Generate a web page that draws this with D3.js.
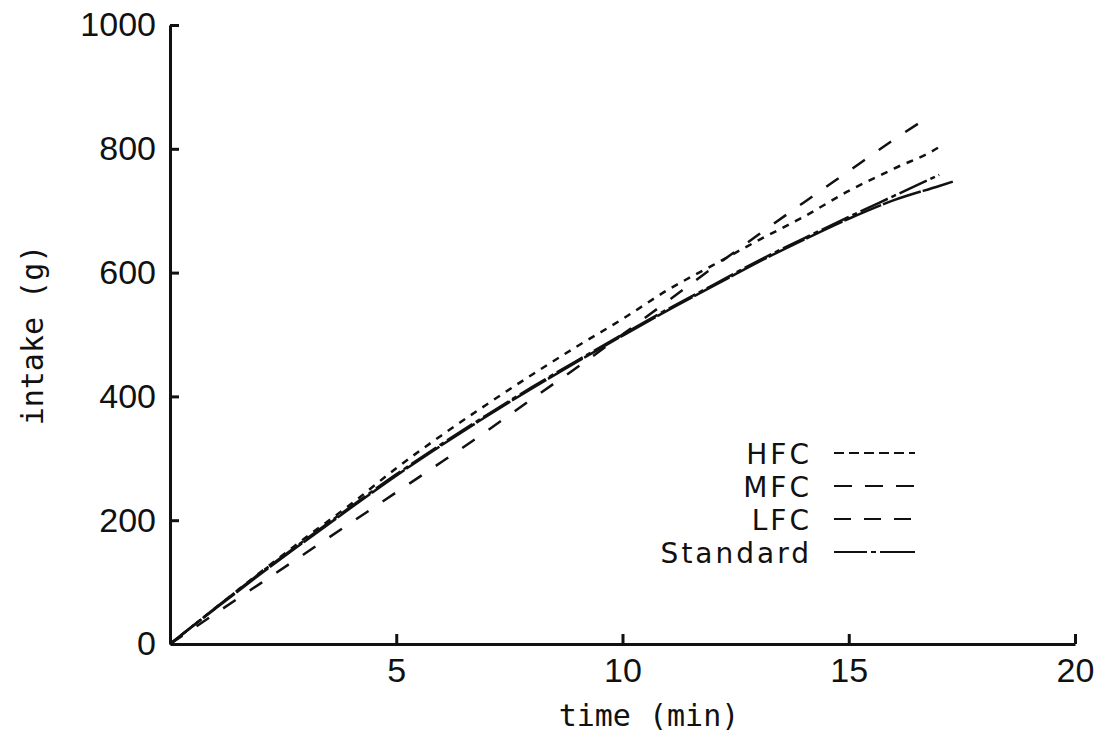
<!DOCTYPE html>
<html>
<head>
<meta charset="utf-8">
<script src="https://cdn.jsdelivr.net/npm/d3@7"></script>
<style>
  body { margin: 0; background: #fff; }
  .axis path, .axis line { stroke: #111; stroke-width: 3; }
  .axis text { font-family: 'Liberation Sans', Arial, sans-serif; font-size: 34px; fill: #111; }
</style>
</head>
<body>
<div id="chart"></div>
<script>
// values
const seriesNames = ['HFC', 'MFC', 'LFC', 'Standard']

const hfcTime = [0, 1, 2, 3, 4, 5, 6, 7, 8, 9, 10, 11, 12, 13, 14, 15, 16, 17, 17.1]
const hfcIntake = [0, 58, 116, 172, 226, 284, 337, 387, 435, 481, 525, 572, 612, 652, 690, 732, 768, 803, 808]

const mfcTime = [0, 1, 2, 3, 4, 5, 6, 7, 8, 9, 10, 11, 12, 13, 14, 15, 16, 16.8]
const mfcIntake = [0, 49, 98, 147, 196, 245, 294, 344, 396, 447, 500, 554, 608, 661, 713, 764, 815, 853]

const lfcTime = [0, 1, 2, 3, 4, 5, 6, 7, 8, 9, 10, 11, 12, 13, 14, 15, 16, 17, 17.3]
const lfcIntake = [0, 57, 113, 167, 220, 272, 321, 368, 413, 456, 498, 539, 578, 617, 653, 687, 717, 740, 747]

const stdTime = [0, 1, 2, 3, 4, 5, 6, 7, 8, 9, 10, 11, 12, 13, 14, 15, 16, 17]
const stdIntake = [0, 58, 115, 169, 222, 274, 323, 370, 415, 458, 500, 541, 580, 619, 655, 690, 724, 758]

const xTicks = [5, 10, 15, 20]
const yTicks = [0, 200, 400, 600, 800, 1000]

const series = [
  {name: 'HFC', time: hfcTime, intake: hfcIntake, dash: '7,7', key: '10,5'},
  {name: 'MFC', time: mfcTime, intake: mfcIntake, dash: '15,17', key: '18,13'},
  {name: 'LFC', time: lfcTime, intake: lfcIntake, dash: '40,2', key: '17,13'},
  {name: 'Standard', time: stdTime, intake: stdIntake, dash: '30,4,5,4', key: '33,4,5,4,40'}
]

const width = 1102
const height = 740

const xScale = d3.scaleLinear()
  .domain([0, 20])
  .range([170, 1075])
const yScale = d3.scaleLinear()
  .domain([0, 1000])
  .range([644, 25])

const svg = d3.select('#chart').append('svg')
  .attr('width', width)
  .attr('height', height)

const xAxis = d3.axisBottom(xScale)
  .tickValues(xTicks)
  .tickFormat(d3.format('d'))
  .tickSizeInner(-10)
  .tickSizeOuter(0)
  .tickPadding(14)
const yAxis = d3.axisLeft(yScale)
  .tickValues(yTicks)
  .tickFormat(d3.format('d'))
  .tickSizeInner(-9)
  .tickSizeOuter(0)
  .tickPadding(14)

svg.append('g')
  .attr('class', 'x axis')
  .attr('transform', `translate(0, ${yScale(0)})`)
  .call(xAxis)
svg.append('g')
  .attr('class', 'y axis')
  .attr('transform', `translate(${xScale(0)}, 0)`)
  .call(yAxis)

svg.selectAll('.y.axis .tick').filter(d => d === 0).select('line').remove()

const line = d3.line()
  .x(d => xScale(d[0]))
  .y(d => yScale(d[1]))
  .curve(d3.curveMonotoneX)

svg.selectAll('.curve').data(series)
  .enter().append('path')
  .attr('class', 'curve')
  .attr('d', s => line(s.time.map((t, i) => [t, s.intake[i]])))
  .attr('fill', 'none')
  .attr('stroke', '#111')
  .attr('stroke-width', 2.5)
  .attr('stroke-dasharray', s => s.dash)

// legend
const legend = svg.selectAll('.key').data(series)
  .enter().append('g')
  .attr('class', 'key')
  .attr('transform', (s, i) => `translate(0, ${464 + i * 33})`)
legend.append('text')
  .attr('x', 812)
  .attr('text-anchor', 'end')
  .style('font-family', "'DejaVu Sans', sans-serif")
  .style('font-size', '28px')
  .style('letter-spacing', '3px')
  .style('fill', '#111')
  .text(s => s.name)
legend.append('line')
  .attr('x1', 834)
  .attr('x2', 915)
  .attr('y1', -11)
  .attr('y2', -11)
  .attr('stroke', '#111')
  .attr('stroke-width', 2.2)
  .attr('stroke-dasharray', s => s.key)

// axis titles
svg.append('text')
  .attr('x', 649)
  .attr('y', 726)
  .attr('text-anchor', 'middle')
  .style('font-family', "'DejaVu Sans Mono', monospace")
  .style('font-size', '30px')
  .style('fill', '#111')
  .text('time (min)')
svg.append('text')
  .attr('transform', 'translate(43, 335) rotate(-90)')
  .attr('text-anchor', 'middle')
  .style('font-family', "'DejaVu Sans Mono', monospace")
  .style('font-size', '30px')
  .style('fill', '#111')
  .text('intake (g)')
</script>
</body>
</html>
